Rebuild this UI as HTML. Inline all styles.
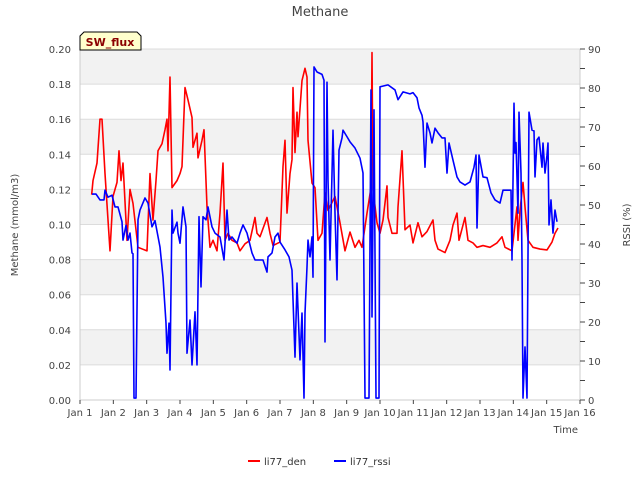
<!DOCTYPE html>
<html><head><meta charset="utf-8"><style>
body{margin:0;background:#fff}
svg{display:block;font-family:"DejaVu Sans","Liberation Sans",sans-serif}
</style></head><body>
<svg id="c" width="640" height="480"></svg>
<script>
const redT=[0.35,0.39,0.51,0.60,0.66,0.75,0.90,0.99,1.11,1.17,1.23,1.29,1.41,1.50,1.59,1.74,2.01,2.10,2.19,2.28,2.34,2.46,2.55,2.61,2.64,2.70,2.76,2.91,3.00,3.06,3.15,3.24,3.36,3.39,3.51,3.54,3.66,3.72,3.81,3.90,3.99,4.11,4.20,4.29,4.35,4.44,4.56,4.71,4.80,4.95,5.10,5.25,5.31,5.40,5.61,5.70,5.79,6.00,6.09,6.15,6.21,6.30,6.36,6.39,6.45,6.51,6.54,6.66,6.75,6.81,6.84,6.96,7.05,7.14,7.26,7.35,7.44,7.65,7.80,7.95,8.10,8.25,8.37,8.46,8.61,8.73,8.76,8.79,8.91,9.00,9.09,9.21,9.24,9.36,9.51,9.54,9.66,9.75,9.90,9.99,10.14,10.26,10.41,10.59,10.65,10.74,10.95,11.10,11.19,11.31,11.37,11.55,11.64,11.79,11.91,12.09,12.30,12.51,12.66,12.75,12.96,13.11,13.14,13.20,13.29,13.35,13.44,13.59,13.80,14.01,14.16,14.25,14.34];
const redV=[0.117,0.125,0.135,0.160,0.160,0.129,0.085,0.116,0.124,0.142,0.125,0.135,0.091,0.120,0.112,0.087,0.085,0.129,0.1025,0.125,0.142,0.146,0.154,0.160,0.142,0.184,0.121,0.125,0.129,0.133,0.178,0.171,0.161,0.144,0.152,0.138,0.148,0.154,0.110,0.087,0.091,0.085,0.1065,0.135,0.091,0.095,0.091,0.0895,0.085,0.089,0.091,0.104,0.095,0.093,0.104,0.095,0.088,0.090,0.133,0.148,0.1065,0.129,0.137,0.178,0.141,0.164,0.150,0.182,0.189,0.184,0.148,0.1236,0.121,0.091,0.095,0.118,0.108,0.116,0.101,0.085,0.0957,0.087,0.091,0.087,0.1065,0.121,0.198,0.120,0.101,0.095,0.1025,0.122,0.104,0.095,0.095,0.110,0.142,0.097,0.0997,0.0895,0.101,0.093,0.096,0.1026,0.091,0.086,0.084,0.091,0.0997,0.1065,0.091,0.104,0.091,0.0895,0.087,0.088,0.087,0.0895,0.093,0.087,0.085,0.110,0.091,0.108,0.124,0.110,0.091,0.087,0.086,0.0855,0.090,0.095,0.098];
const blueT=[0.36,0.48,0.6,0.72,0.75,0.84,0.96,1.05,1.14,1.26,1.29,1.38,1.44,1.5,1.56,1.59,1.62,1.68,1.74,1.8,1.95,2.04,2.16,2.25,2.4,2.49,2.58,2.61,2.67,2.7,2.76,2.79,2.91,2.94,3.0,3.09,3.18,3.21,3.3,3.36,3.45,3.51,3.57,3.63,3.69,3.78,3.84,3.96,4.05,4.2,4.32,4.41,4.47,4.56,4.71,4.8,4.89,5.01,5.16,5.25,5.49,5.61,5.64,5.76,5.85,5.94,6.0,6.15,6.27,6.36,6.45,6.51,6.6,6.66,6.72,6.75,6.81,6.84,6.9,6.96,6.99,7.02,7.11,7.26,7.32,7.35,7.41,7.44,7.5,7.59,7.65,7.71,7.77,7.86,7.89,8.01,8.1,8.25,8.4,8.49,8.55,8.67,8.73,8.76,8.82,8.88,8.97,9.0,9.24,9.45,9.54,9.69,9.9,9.99,10.11,10.17,10.26,10.29,10.35,10.41,10.5,10.56,10.65,10.74,10.86,10.95,11.01,11.07,11.19,11.31,11.4,11.55,11.7,11.82,11.88,11.91,11.97,12.09,12.21,12.33,12.45,12.6,12.69,12.93,12.96,13.02,13.05,13.08,13.14,13.17,13.23,13.26,13.29,13.35,13.41,13.47,13.56,13.62,13.65,13.71,13.77,13.86,13.89,13.95,14.01,14.04,14.07,14.13,14.19,14.25,14.31];
const blueV=[52.8,52.8,51.3,51.3,53.8,52,52.5,49.5,49.5,45.7,41,44.8,41,42.8,37.7,37.5,0.5,0.5,46.2,48.7,51.8,50.5,44.4,46,39.2,31.5,19.7,12,19.7,7.7,48.7,42.8,45.6,42.8,40.2,49.5,44.4,12,20.5,9,22.6,9,47,29,47,46.2,49.5,44.4,42.8,41.8,35.9,48.7,41,41.8,40.2,42.8,44.9,42.8,37.7,35.9,35.9,32.8,36.7,37.7,41.8,42.8,40.5,38.5,36.7,33.3,11,30,10.3,22.3,0.5,22.3,34.1,41,36.7,41.8,31.5,85.4,84.1,83.5,82,14.9,81.5,56.4,35.9,69.2,47.9,30.8,64.1,67.2,69.2,67.5,66.2,64.6,62,58.2,0.5,0.5,79.5,21.3,74.4,0.5,0.5,80.3,80.8,79.5,77,79,78.5,78.8,77.5,74.9,73,71.3,59.7,71,68.5,65.9,69.7,68.5,67.2,67.2,58.2,65.9,61.5,57.2,55.9,55.1,55.9,59.7,62.8,44.1,62.8,57.2,57,53.1,51.3,50.5,53.8,53.8,35.9,76.1,63.3,66,47.9,73.8,58.2,35.9,0.5,13.6,0.5,73.8,69.2,69,57.2,66.7,67.4,59.7,65.9,58.2,62.8,65.9,44.9,51.3,42.8,48.7,45.7];
const xLabels=["Jan 1","Jan 2","Jan 3","Jan 4","Jan 5","Jan 6","Jan 7","Jan 8","Jan 9","Jan 10","Jan 11","Jan 12","Jan 13","Jan 14","Jan 15","Jan 16"];
const leftTicks=[0,0.02,0.04,0.06,0.08,0.10,0.12,0.14,0.16,0.18,0.20];
const rightTicks=[0,10,20,30,40,50,60,70,80,90];

const L=80,R=580,T=49,B=400;
const sx=t=>L+t*(R-L)/15;
const syL=v=>B-v*(B-T)/0.2;
const syR=v=>B-v*(B-T)/90;
const svg=document.getElementById('c');
const NS='http://www.w3.org/2000/svg';
function mk(tag,a,parent){const e=document.createElementNS(NS,tag);for(const k in a)e.setAttribute(k,a[k]);(parent||svg).appendChild(e);return e;}
function txt(s,a){const e=mk('text',a);e.textContent=s;return e;}

for(let i=0;i<10;i++){
  if(i%2==1){const b=mk('rect',{x:L,y:syL((i+1)*0.02),width:R-L,height:syL(i*0.02)-syL((i+1)*0.02),fill:'#f2f2f2'});
  
  }
}
leftTicks.forEach(v=>{
  const g=mk('line',{x1:L,x2:R,y1:syL(v),y2:syL(v),stroke:'#dcdcdc','stroke-width':1});
  
  
  const t=txt(v.toFixed(2),{x:L-9,y:syL(v)+4,'text-anchor':'end','font-size':10,fill:'#444'});
  
  
});
mk('line',{x1:L,x2:L,y1:T,y2:B,stroke:'#ccc'});
mk('line',{x1:L,x2:R,y1:B,y2:B,stroke:'#ccc'});
mk('line',{x1:R,x2:R,y1:T,y2:B,stroke:'#ccc'});
for(let v=0;v<=90;v+=5){mk('line',{x1:R,x2:R+5,y1:syR(v),y2:syR(v),stroke:'#444'});}
rightTicks.forEach(v=>{
  const t=txt(String(v),{x:R+8,y:syR(v)+4,'font-size':10,fill:'#444'});
  
  
});
xLabels.forEach((s,i)=>{
  mk('line',{x1:sx(i),x2:sx(i),y1:B,y2:B+4,stroke:'#444'});
  const t=txt(s,{x:sx(i),y:B+16,'text-anchor':'middle','font-size':10,fill:'#444'});
  
  
});
const rp=mk('polyline',{points:redT.map((t,i)=>sx(t)+','+syL(redV[i])).join(' '),fill:'none',stroke:'#ff0000','stroke-width':1.6,'stroke-linejoin':'round'});


const bp=mk('polyline',{points:blueT.map((t,i)=>sx(t)+','+syR(blueV[i])).join(' '),fill:'none',stroke:'#0000ff','stroke-width':1.6,'stroke-linejoin':'round'});


</script>
<svg width="640" height="480" style="position:absolute;left:0;top:0">
<text x="320" y="16" text-anchor="middle" font-size="13" fill="#444">Methane</text>
<g>
<path d="M84,32 L137,32 L141,36 L141,50 L80,50 L80,36 Z" fill="#ffffcc" stroke="#000" stroke-width="1"/>
<text x="110" y="46" text-anchor="middle" font-size="11" font-weight="bold" fill="#8b0000">SW_flux</text>
</g>
<text x="18" y="225" transform="rotate(-90 18 225)" text-anchor="middle" font-size="10" fill="#444">Methane (mmol/m3)</text>
<text x="630" y="225" transform="rotate(-90 630 225)" text-anchor="middle" font-size="10" fill="#444">RSSI (%)</text>
<text x="578" y="433" text-anchor="end" font-size="10" fill="#444">Time</text>
<g>
<line x1="248" x2="260" y1="461" y2="461" stroke="#ff0000" stroke-width="2"/>
<text x="264" y="465" font-size="10" fill="#333">li77_den</text></g>
<g>
<line x1="334" x2="346" y1="461" y2="461" stroke="#0000ff" stroke-width="2"/>
<text x="350" y="465" font-size="10" fill="#333">li77_rssi</text></g>
</svg>
</body></html>
